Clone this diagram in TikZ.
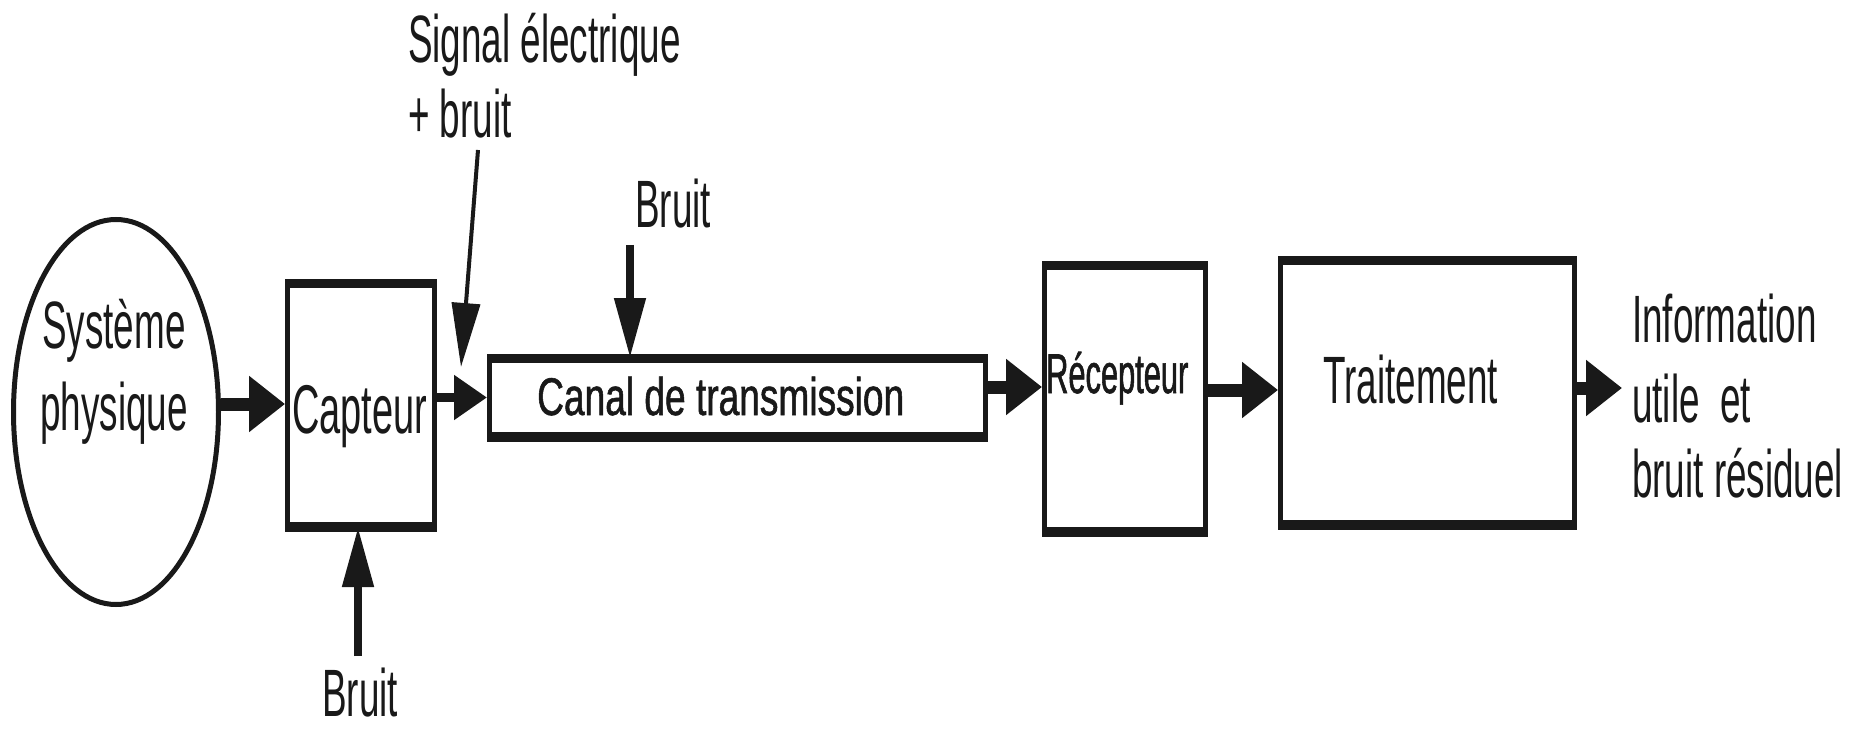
\documentclass[tikz,border=0pt]{standalone}
\usepackage{fontspec}
\usetikzlibrary{arrows.meta,shapes.geometric}
\newfontfamily\narr[FakeStretch=0.55]{Liberation Sans}
\newfontfamily\canalfont[FakeStretch=0.70,FakeBold=1]{Liberation Sans}
\newfontfamily\recfont[FakeStretch=0.55,FakeBold=1]{Liberation Sans}
\tikzset{
  lbl/.style={inner sep=0pt, anchor=base west, text=black!90, font=\narr\fontsize{67}{80}\selectfont},
  blk/.style={draw=black!90, line width=5pt, inner sep=0pt},
  boxedge/.style={draw=black!90, line width=9pt},
  fatarrow/.style={draw=black!90, line width=13pt, -{Triangle[length=36pt,width=54pt]}},
  medarrow/.style={draw=black!90, line width=9pt, -{Triangle[length=33pt,width=43pt]}},
  midarrow/.style={draw=black!90, line width=8pt, -{Triangle[length=60pt,width=30pt]}},
  slimarrow/.style={draw=black!90, line width=4pt, -{Triangle[length=64pt,width=28pt]}}
}
\begin{document}
\begin{tikzpicture}[x=1pt,y=-1pt]
\fill[white] (0,0) rectangle (1850,730);
\useasboundingbox (0,0) rectangle (1850,730);

% blocks
\node[blk, ellipse, minimum width=205pt, minimum height=385pt] (sys) at (116,412) {};
\node[blk, rectangle, minimum width=147pt, minimum height=239pt] (cap) at (361,405) {};
\node[blk, rectangle, minimum width=496pt, minimum height=74pt] (can) at (737.5,397.5) {};
\node[blk, rectangle, minimum width=161pt, minimum height=262pt] (rec) at (1125,398.5) {};
\node[blk, rectangle, minimum width=294pt, minimum height=260pt] (tra) at (1427.5,392.5) {};

% thicker top/bottom edges
\foreach \b in {cap,can,rec,tra}{
  \draw[boxedge] (\b.north west) -- (\b.north east);
  \draw[boxedge] (\b.south west) -- (\b.south east);
}

% texts
\node[lbl, anchor=base] (sys1) at (114,348) {Système};
\node[lbl, anchor=base] (sys2) at (114,430) {physique};
\node[lbl, font=\narr\fontsize{69}{80}\selectfont] (capt) at (292,433) {Capteur};
\node[lbl, font=\canalfont\fontsize{53}{60}\selectfont] (cant) at (537,415) {Canal de transmission};
\node[lbl, font=\recfont\fontsize{56}{60}\selectfont] (rect) at (1046,393) {Récepteur};
\node[lbl] (trat) at (1323,403) {Traitement};
\node[lbl] (out1) at (1632,342) {Information};
\node[lbl] (out2) at (1632,422) {utile\ \ et};
\node[lbl] (out3) at (1632,497) {bruit résiduel};
\node[lbl] (sig1) at (408,63) {Signal électrique};
\node[lbl] (sig2) at (408,138) {+ bruit};
\node[lbl] (bru1) at (635,228) {Bruit};
\node[lbl] (bru2) at (322,716) {Bruit};

% helper coordinates
\coordinate (y1) at (0,404);
\coordinate (y3) at (0,387);
\coordinate (y4) at (0,390);
\coordinate (outend) at (1622,388);
\coordinate (sigtail) at (478,150);
\coordinate (sigtip) at (461,367);
\coordinate (btail) at (630,245);
\coordinate (bbtail) at (358,656);

% connectors
\draw[fatarrow] (y1 -| sys.east) -- (y1 -| cap.west);
\draw[medarrow] (can.west -| cap.east) -- (can.west);
\draw[fatarrow] (y3 -| can.east) -- (y3 -| rec.west);
\draw[fatarrow] (y4 -| rec.east) -- (y4 -| tra.west);
\draw[fatarrow] (outend -| tra.east) -- (outend);
\draw[slimarrow] (sigtail) -- (sigtip);
\draw[midarrow] (btail) -- (btail |- can.north);
\draw[midarrow] (bbtail) -- (bbtail |- cap.south);
\end{tikzpicture}
\end{document}
